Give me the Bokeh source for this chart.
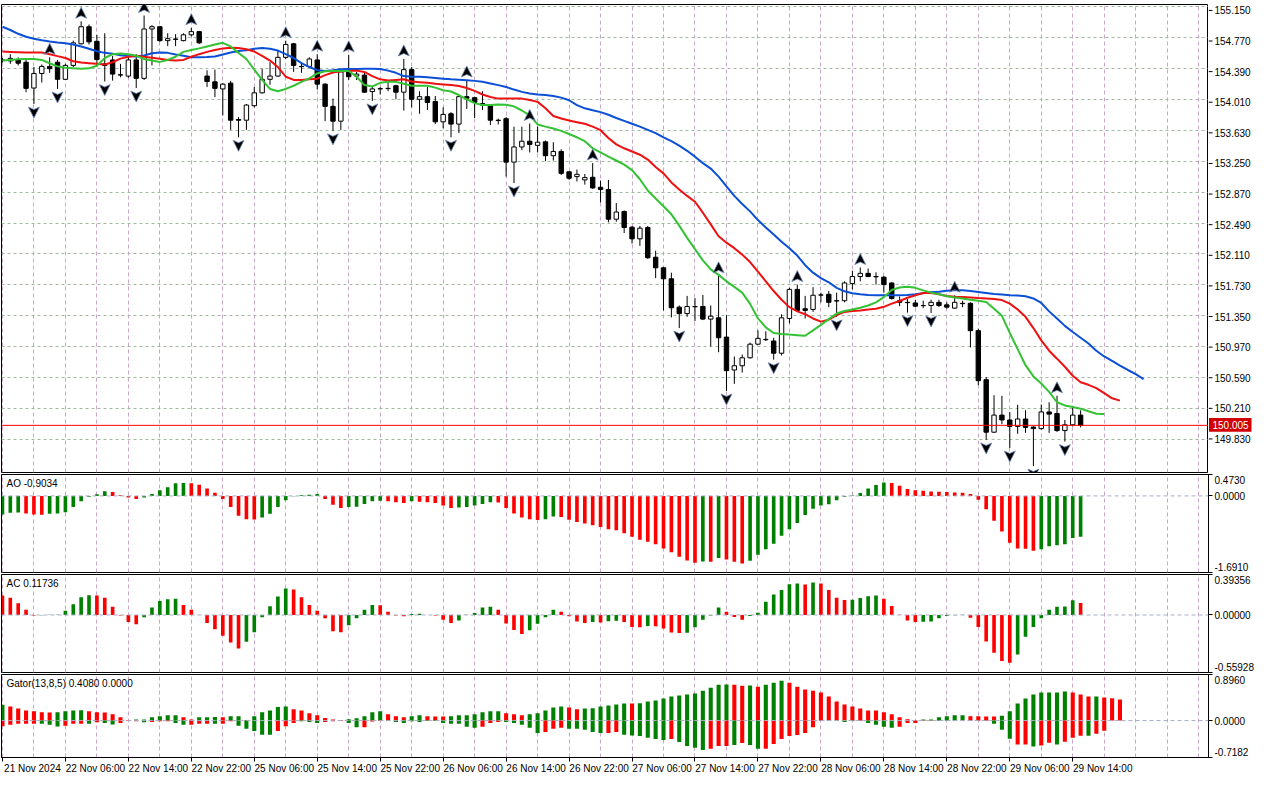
from bokeh.plotting import figure
from bokeh.models import (Range1d, FixedTicker, Grid, Span, Label, ColumnDataSource,
                          CustomJSTickFormatter)
from bokeh.layouts import column, row
from bokeh.embed import file_html
from bokeh.resources import INLINE
from bokeh.core.properties import value

# ---------------- data (H1 bars, bar 0 = 21 Nov 2024 22:00) ----------------
time_labels = ["21 Nov 2024", "22 Nov 06:00", "22 Nov 14:00", "22 Nov 22:00", "25 Nov 06:00",
               "25 Nov 14:00", "25 Nov 22:00", "26 Nov 06:00", "26 Nov 14:00", "26 Nov 22:00",
               "27 Nov 06:00", "27 Nov 14:00", "27 Nov 22:00", "28 Nov 06:00", "28 Nov 14:00",
               "28 Nov 22:00", "29 Nov 06:00", "29 Nov 14:00"]
label_bars = [0, 8, 16, 24, 32, 40, 48, 56, 64, 72, 80, 88, 96, 104, 112, 120, 128, 136]

open_ = [154.485, 154.481, 154.493, 154.465, 154.148, 154.327, 154.414, 154.465, 154.255, 154.426,
         154.691, 154.901, 154.722, 154.445, 154.493, 154.311, 154.295, 154.493, 154.267, 154.873,
         154.901, 154.730, 154.750, 154.730, 154.802, 154.841, 154.295, 154.224, 154.137, 154.208,
         153.761, 153.753, 153.931, 154.089, 154.255, 154.295, 154.525, 154.691, 154.414, 154.414,
         154.493, 154.196, 153.923, 153.741, 154.346, 154.295, 154.307, 154.105, 154.137, 154.141,
         154.176, 154.097, 154.374, 154.010, 154.042, 153.982, 153.733, 153.832, 153.705, 154.042,
         154.030, 153.958, 153.931, 153.753, 153.772, 153.238, 153.424, 153.495, 153.444, 153.487,
         153.317, 153.369, 153.119, 153.060, 153.020, 153.052, 152.929, 152.902, 152.537, 152.632,
         152.439, 152.296, 152.435, 152.070, 151.940, 151.805, 151.457, 151.378, 151.465, 151.465,
         151.310, 151.326, 151.089, 150.685, 150.737, 150.835, 151.002, 151.061, 151.041, 150.891,
         151.318, 151.675, 151.437, 151.429, 151.607, 151.615, 151.536, 151.536, 151.746, 151.833,
         151.872, 151.833, 151.825, 151.754, 151.536, 151.516, 151.508, 151.477, 151.477, 151.516,
         151.485, 151.445, 151.504, 151.504, 151.168, 150.566, 149.921, 150.131, 150.071, 149.992,
         150.083, 149.984, 149.965, 150.170, 150.151, 149.941, 150.012, 150.131]
high = [154.517, 154.564, 154.525, 154.501, 154.406, 154.437, 154.525, 154.493, 154.445, 154.730,
        154.968, 154.928, 154.802, 154.821, 154.544, 154.445, 154.544, 154.564, 155.039, 154.920,
        154.912, 154.821, 154.810, 154.821, 154.889, 154.849, 154.366, 154.374, 154.208, 154.236,
        153.792, 153.951, 154.160, 154.386, 154.465, 154.604, 154.730, 154.703, 154.445, 154.525,
        154.564, 154.208, 154.018, 154.386, 154.556, 154.346, 154.346, 154.160, 154.160, 154.247,
        154.188, 154.505, 154.406, 154.109, 154.160, 154.050, 153.911, 153.852, 154.050, 154.247,
        154.042, 154.109, 153.939, 153.772, 153.792, 153.674, 153.674, 153.713, 153.674, 153.503,
        153.483, 153.396, 153.125, 153.147, 153.092, 153.226, 153.012, 153.020, 152.735, 152.644,
        152.454, 152.454, 152.454, 152.150, 151.952, 151.880, 151.477, 151.595, 151.568, 151.607,
        151.477, 151.841, 151.358, 150.851, 150.875, 151.021, 151.172, 151.160, 151.081, 151.370,
        151.694, 151.734, 151.595, 151.702, 151.635, 151.655, 151.635, 151.774, 151.904, 151.944,
        151.932, 151.884, 151.841, 151.762, 151.587, 151.556, 151.548, 151.536, 151.548, 151.548,
        151.516, 151.603, 151.536, 151.516, 151.192, 150.598, 150.376, 150.368, 150.170, 150.257,
        150.190, 149.992, 150.261, 150.289, 150.368, 150.071, 150.230, 150.190]
low = [154.461, 154.445, 154.426, 154.097, 153.951, 154.216, 154.335, 154.137, 154.247, 154.406,
       154.683, 154.683, 154.406, 154.228, 154.239, 154.279, 154.275, 154.148, 154.247, 154.426,
       154.715, 154.663, 154.663, 154.722, 154.782, 154.691, 154.160, 154.038, 153.812, 153.634,
       153.543, 153.634, 153.911, 154.081, 154.188, 154.287, 154.505, 154.346, 154.335, 154.406,
       154.129, 153.741, 153.622, 153.634, 154.247, 154.247, 154.089, 153.990, 154.069, 154.109,
       154.010, 153.871, 153.911, 153.832, 153.879, 153.705, 153.654, 153.543, 153.594, 153.891,
       153.780, 153.879, 153.693, 153.701, 153.060, 152.981, 153.385, 153.357, 153.357, 153.250,
       153.258, 153.080, 153.020, 153.001, 152.961, 152.910, 152.743, 152.498, 152.506, 152.367,
       152.237, 152.209, 152.051, 151.813, 151.417, 151.330, 151.200, 151.338, 151.287, 151.298,
       150.974, 150.903, 150.428, 150.515, 150.653, 150.824, 150.994, 151.041, 150.812, 150.863,
       151.259, 151.398, 151.318, 151.398, 151.516, 151.457, 151.338, 151.516, 151.675, 151.774,
       151.825, 151.734, 151.635, 151.548, 151.469, 151.390, 151.457, 151.445, 151.386, 151.457,
       151.437, 151.437, 151.457, 150.962, 150.499, 149.826, 149.913, 150.020, 149.727, 149.901,
       149.913, 149.505, 149.953, 149.913, 149.925, 149.806, 149.992, 149.980]
close = [154.493, 154.513, 154.453, 154.144, 154.327, 154.414, 154.386, 154.255, 154.426, 154.703,
         154.901, 154.715, 154.497, 154.426, 154.319, 154.307, 154.493, 154.267, 154.873, 154.901,
         154.730, 154.754, 154.746, 154.802, 154.841, 154.703, 154.228, 154.144, 154.196, 153.753,
         153.753, 153.939, 154.089, 154.255, 154.295, 154.525, 154.683, 154.426, 154.410, 154.505,
         154.196, 153.923, 153.741, 154.346, 154.287, 154.319, 154.097, 154.137, 154.141, 154.144,
         154.097, 154.374, 154.010, 154.042, 153.970, 153.733, 153.824, 153.705, 154.042, 154.022,
         153.970, 153.939, 153.753, 153.749, 153.238, 153.424, 153.495, 153.456, 153.483, 153.317,
         153.369, 153.100, 153.040, 153.088, 153.048, 152.921, 152.902, 152.537, 152.625, 152.435,
         152.296, 152.427, 152.063, 151.940, 151.805, 151.449, 151.378, 151.465, 151.461, 151.310,
         151.346, 151.081, 150.677, 150.737, 150.835, 151.002, 151.073, 151.057, 150.891, 151.326,
         151.675, 151.417, 151.417, 151.603, 151.605, 151.516, 151.532, 151.754, 151.833, 151.872,
         151.833, 151.829, 151.734, 151.564, 151.516, 151.512, 151.469, 151.475, 151.516, 151.477,
         151.457, 151.516, 151.500, 151.168, 150.554, 149.921, 150.131, 150.071, 149.992, 150.083,
         149.980, 149.965, 150.170, 150.143, 149.941, 150.012, 150.131, 150.005]

# Alligator (values shown at their shifted positions)
jaw = [154.901, 154.861, 154.814, 154.778, 154.754, 154.734, 154.719, 154.707, 154.699, 154.683,
       154.659, 154.631, 154.600, 154.580, 154.568, 154.552, 154.540, 154.536, 154.548, 154.576,
       154.584, 154.580, 154.560, 154.544, 154.525, 154.525, 154.529, 154.536, 154.560, 154.584,
       154.604, 154.612, 154.631, 154.639, 154.631, 154.608, 154.564, 154.517, 154.453, 154.406,
       154.366, 154.358, 154.366, 154.378, 154.382, 154.382, 154.386, 154.386, 154.382, 154.362,
       154.335, 154.295, 154.287, 154.287, 154.279, 154.271, 154.263, 154.255, 154.251, 154.244,
       154.236, 154.224, 154.204, 154.184, 154.160, 154.129, 154.101, 154.081, 154.069, 154.062,
       154.050, 154.030, 153.998, 153.939, 153.899, 153.875, 153.852, 153.820, 153.780, 153.745,
       153.709, 153.674, 153.634, 153.594, 153.543, 153.495, 153.440, 153.377, 153.305, 153.226,
       153.159, 153.060, 152.941, 152.823, 152.724, 152.633, 152.526, 152.435, 152.348, 152.260,
       152.181, 152.090, 151.972, 151.880, 151.813, 151.762, 151.694, 151.651, 151.627, 151.615,
       151.607, 151.603, 151.603, 151.603, 151.603, 151.607, 151.615, 151.627, 151.639, 151.647,
       151.659, 151.667, 151.663, 151.655, 151.643, 151.631, 151.619, 151.611, 151.603, 151.599,
       151.591, 151.564, 151.508, 151.405, 151.318, 151.227, 151.152, 151.081, 151.010, 150.922,
       150.851, 150.796, 150.740, 150.685, 150.634, 150.574]
teeth = [154.596, 154.592, 154.588, 154.584, 154.584, 154.584, 154.564, 154.540, 154.517, 154.477,
         154.461, 154.453, 154.445, 154.437, 154.465, 154.509, 154.532, 154.544, 154.532, 154.521,
         154.509, 154.493, 154.485, 154.493, 154.532, 154.564, 154.592, 154.616, 154.635, 154.643,
         154.639, 154.624, 154.596, 154.544, 154.485, 154.406, 154.287, 154.248, 154.248, 154.255,
         154.263, 154.307, 154.339, 154.354, 154.358, 154.362, 154.346, 154.295, 154.255, 154.240,
         154.248, 154.255, 154.228, 154.220, 154.212, 154.200, 154.192, 154.184, 154.172, 154.149,
         154.113, 154.069, 154.038, 154.018, 154.018, 154.018, 154.018, 154.002, 153.978, 153.899,
         153.804, 153.773, 153.749, 153.729, 153.709, 153.674, 153.630, 153.535, 153.456, 153.408,
         153.369, 153.329, 153.270, 153.179, 153.100, 152.989, 152.902, 152.823, 152.751, 152.617,
         152.474, 152.328, 152.249, 152.181, 152.102, 152.011, 151.892, 151.774, 151.655, 151.548,
         151.457, 151.405, 151.370, 151.318, 151.279, 151.303, 151.358, 151.398, 151.409, 151.417,
         151.429, 151.437, 151.461, 151.500, 151.532, 151.572, 151.603, 151.631, 151.631, 151.615,
         151.595, 151.584, 151.580, 151.576, 151.568, 151.564, 151.556, 151.544, 151.500, 151.429,
         151.338, 151.200, 151.049, 150.922, 150.824, 150.725, 150.614, 150.535, 150.503, 150.463,
         150.400, 150.337, 150.309]
lips = [154.485, 154.493, 154.501, 154.505, 154.505, 154.493, 154.453, 154.414, 154.398, 154.390,
        154.386, 154.390, 154.422, 154.517, 154.564, 154.572, 154.564, 154.544, 154.505, 154.485,
        154.469, 154.493, 154.532, 154.592, 154.616, 154.635, 154.659, 154.683, 154.703, 154.659,
        154.580, 154.505, 154.374, 154.248, 154.137, 154.109, 154.137, 154.176, 154.224, 154.267,
        154.327, 154.354, 154.358, 154.358, 154.358, 154.287, 154.184, 154.168, 154.212, 154.224,
        154.224, 154.200, 154.176, 154.176, 154.176, 154.153, 154.121, 154.105, 154.062, 154.010,
        153.963, 153.939, 153.939, 153.947, 153.943, 153.923, 153.872, 153.812, 153.701, 153.674,
        153.650, 153.622, 153.583, 153.543, 153.495, 153.408, 153.357, 153.305, 153.258, 153.207,
        153.139, 153.028, 152.890, 152.791, 152.696, 152.597, 152.458, 152.308, 152.169, 152.031,
        151.920, 151.853, 151.774, 151.706, 151.635, 151.497, 151.318, 151.208, 151.140, 151.128,
        151.120, 151.113, 151.105, 151.172, 151.239, 151.310, 151.378, 151.409, 151.429, 151.449,
        151.477, 151.516, 151.580, 151.667, 151.698, 151.706, 151.694, 151.663, 151.635, 151.615,
        151.591, 151.576, 151.564, 151.548, 151.536, 151.520, 151.437, 151.350, 151.140, 150.942,
        150.744, 150.606, 150.519, 150.416, 150.289, 150.250, 150.230, 150.210, 150.178, 150.147,
        150.143]

fractal_up = [6, 10, 18, 24, 36, 40, 44, 51, 59, 67, 75, 91, 101, 109, 121, 134]
fractal_down = [4, 7, 13, 17, 30, 42, 47, 57, 65, 86, 92, 98, 106, 115, 118, 125, 128, 131, 135]

ao = [-0.408, -0.372, -0.365, -0.386, -0.408, -0.415, -0.393, -0.386, -0.358, -0.246,
      -0.119, -0.021, 0.035, 0.105, 0.084, 0.014, -0.035, -0.070, -0.035, 0.042,
      0.126, 0.190, 0.281, 0.288, 0.281, 0.246, 0.162, 0.070, -0.070, -0.246,
      -0.436, -0.513, -0.520, -0.478, -0.393, -0.246, -0.098, -0.007, 0.014, 0.028,
      0.042, -0.070, -0.197, -0.267, -0.246, -0.239, -0.176, -0.119, -0.105, -0.119,
      -0.141, -0.155, -0.119, -0.126, -0.141, -0.155, -0.211, -0.267, -0.253, -0.246,
      -0.211, -0.176, -0.141, -0.148, -0.267, -0.386, -0.478, -0.513, -0.534, -0.513,
      -0.457, -0.464, -0.527, -0.576, -0.611, -0.646, -0.689, -0.738, -0.759, -0.822,
      -0.899, -0.970, -1.012, -1.068, -1.159, -1.244, -1.342, -1.426, -1.475, -1.447,
      -1.454, -1.370, -1.405, -1.454, -1.490, -1.433, -1.300, -1.180, -1.054, -0.878,
      -0.738, -0.597, -0.422, -0.281, -0.211, -0.183, -0.098, -0.021, 0.007, 0.063,
      0.162, 0.239, 0.295, 0.288, 0.225, 0.155, 0.126, 0.112, 0.098, 0.091,
      0.084, 0.077, 0.072, 0.042, -0.084, -0.295, -0.548, -0.787, -1.033, -1.159,
      -1.166, -1.208, -1.180, -1.110, -1.089, -1.068, -0.927, -0.9034]
ao_color = ("ggg" "rrr" "gggggggg" "rrrr" "gggggg" "rrrrrrrrr" "gggggggg" "rrr" "ggggg" "rrr"
            "g" "rrrrr" "ggggg" "rrrrrr" "gg" "rrrrrrrrrrrrrrrrrr" "g" "r" "g" "rrr"
            "gggggggggggggggggg" "rrrrrrrrrrrrrrrrrrr" "gggggg")

ac = [0.189, 0.167, 0.113, 0.050, -0.006, -0.003, 0.002, 0.003, 0.041, 0.104,
      0.173, 0.192, 0.190, 0.167, 0.079, -0.006, -0.069, -0.091, -0.022, 0.072,
      0.135, 0.154, 0.157, 0.097, 0.050, -0.001, -0.079, -0.138, -0.201, -0.267,
      -0.327, -0.261, -0.167, -0.022, 0.085, 0.179, 0.258, 0.248, 0.173, 0.097,
      0.041, -0.031, -0.157, -0.167, -0.101, -0.031, 0.050, 0.097, 0.094, 0.031,
      -0.006, -0.013, 0.009, 0.013, -0.001, -0.006, -0.047, -0.079, -0.053, 0.002,
      0.019, 0.072, 0.079, 0.050, -0.082, -0.145, -0.186, -0.148, -0.085, -0.022,
      0.050, 0.031, -0.013, -0.063, -0.079, -0.069, -0.072, -0.060, -0.057, -0.069,
      -0.116, -0.120, -0.107, -0.110, -0.132, -0.170, -0.176, -0.172, -0.120, -0.047,
      -0.006, 0.072, 0.031, -0.019, -0.047, -0.009, 0.022, 0.129, 0.198, 0.242,
      0.299, 0.305, 0.296, 0.315, 0.305, 0.242, 0.167, 0.145, 0.148, 0.164,
      0.182, 0.189, 0.157, 0.088, 0.002, -0.053, -0.069, -0.066, -0.063, -0.031,
      -0.009, -0.003, 0.003, -0.028, -0.116, -0.258, -0.368, -0.447, -0.465, -0.384,
      -0.211, -0.116, -0.031, 0.050, 0.079, 0.082, 0.142, 0.11736]
ac_color = ("rrrrr" "ggggggg" "rrrrrr" "ggggg" "rrrrrrrr" "gggggg" "rrrrrrr" "gggg" "rrrr" "gg"
            "rrrr" "ggggg" "rrrr" "gggg" "rrrr" "g" "r" "gg" "rrr" "g" "rrrr" "ggggg" "rrr"
            "ggggggg" "r" "g" "rrrr" "gggg" "rrrrr" "gggggg" "rrrrrr" "gggggggg" "r")

gator_up = [0.307, 0.275, 0.237, 0.198, 0.179, 0.160, 0.158, 0.162, 0.179, 0.198,
            0.200, 0.179, 0.160, 0.155, 0.122, 0.064, 0.006, 0.019, 0.022, 0.064,
            0.083, 0.102, 0.105, 0.064, 0.019, 0.064, 0.066, 0.068, 0.064, 0.083,
            0.085, 0.013, 0.083, 0.160, 0.198, 0.262, 0.275, 0.218, 0.198, 0.141,
            0.102, 0.051, 0.019, 0.006, 0.026, 0.045, 0.083, 0.160, 0.179, 0.122,
            0.083, 0.064, 0.083, 0.102, 0.083, 0.081, 0.080, 0.083, 0.102, 0.104,
            0.122, 0.160, 0.179, 0.181, 0.141, 0.122, 0.102, 0.122, 0.141, 0.198,
            0.256, 0.275, 0.256, 0.218, 0.237, 0.240, 0.275, 0.294, 0.314, 0.333,
            0.331, 0.336, 0.371, 0.390, 0.429, 0.467, 0.486, 0.506, 0.525, 0.582,
            0.640, 0.698, 0.700, 0.695, 0.678, 0.680, 0.659, 0.698, 0.736, 0.774,
            0.736, 0.659, 0.602, 0.582, 0.544, 0.467, 0.371, 0.314, 0.275, 0.237,
            0.198, 0.195, 0.160, 0.122, 0.064, 0.026, 0.006, 0.019, 0.022, 0.064,
            0.083, 0.102, 0.104, 0.083, 0.082, 0.081, 0.080, 0.096, 0.179, 0.333,
            0.429, 0.506, 0.544, 0.546, 0.548, 0.563, 0.544, 0.506, 0.467, 0.470,
            0.448, 0.435, 0.408]
gator_up_color = ("g" "rrrrrr" "gggg" "rrrrrr" "gggggg" "rr" "ggg" "r" "gg" "r" "ggggg" "rrrrrrr"
                  "ggggg" "rrr" "gg" "rrr" "ggggggg" "rrr" "ggggg" "rr" "gggggg" "r"
                  "gggggggggggg" "rr" "g" "r" "ggg" "rrrrrrrrrrrrrrrrr" "gggggg" "rrrr"
                  "ggggggggg" "rrr" "g" "rrr")
gator_down = [-0.109, -0.083, -0.064, -0.064, -0.064, -0.064, -0.083, -0.115, -0.102, -0.064,
              -0.064, -0.064, -0.032, -0.045, -0.077, -0.045, -0.006, -0.013, -0.032, -0.026,
              -0.013, -0.013, -0.045, -0.083, -0.083, -0.064, -0.064, -0.064, -0.064, -0.013,
              -0.102, -0.160, -0.205, -0.275, -0.275, -0.205, -0.109, -0.045, -0.013, -0.026,
              -0.045, -0.026, -0.013, -0.006, -0.045, -0.128, -0.128, -0.019, -0.006, -0.006,
              -0.026, -0.045, -0.013, -0.026, -0.006, -0.006, -0.045, -0.064, -0.064, -0.122,
              -0.141, -0.122, -0.045, -0.026, -0.026, -0.045, -0.083, -0.141, -0.243, -0.224,
              -0.160, -0.141, -0.160, -0.160, -0.179, -0.224, -0.243, -0.243, -0.224, -0.275,
              -0.288, -0.301, -0.333, -0.358, -0.378, -0.358, -0.416, -0.493, -0.531, -0.570,
              -0.550, -0.493, -0.493, -0.474, -0.435, -0.474, -0.550, -0.550, -0.454, -0.358,
              -0.301, -0.282, -0.243, -0.128, -0.002, -0.003, -0.006, -0.026, -0.006, -0.003,
              -0.045, -0.083, -0.122, -0.141, -0.122, -0.045, -0.045, -0.002, -0.002, -0.002,
              -0.002, -0.002, -0.003, -0.002, -0.002, -0.002, -0.064, -0.179, -0.352, -0.467,
              -0.467, -0.506, -0.486, -0.429, -0.467, -0.410, -0.333, -0.294, -0.294, -0.256,
              -0.198]
gator_down_color = ("rrrrr" "ggg" "rrr" "g" "r" "gg" "rrr" "g" "rrr" "gg" "rrr" "g" "rr" "ggggg"
                    "rrr" "ggg" "rrr" "gg" "rrr" "gggggggggggg" "rrr" "ggggg" "rrr" "ggggg" "rr"
                    "gggggg" "r" "gggg" "rrr" "g" "r" "gg" "rrrrrrrr" "gggg" "r" "gggg" "rrrrr"
                    "ggg" "rrrr" "ggg" "rr" "g" "rr" "g" "rrr" "g" "rr")

price_ticks = [155.150, 154.770, 154.390, 154.010, 153.630, 153.250, 152.870, 152.490,
               152.110, 151.730, 151.350, 150.970, 150.590, 150.210, 149.830]
main_range = (149.426, 155.174)
ao_range = (-1.691, 0.473)
ac_range = (-0.55928, 0.39356)
gator_range = (-0.7182, 0.896)
ao_labels = ["-1.6910", "0.0000", "0.4730"]
ac_labels = ["-0.55928", "0.00000", "0.39356"]
gator_labels = ["-0.7182", "0.0000", "0.8960"]

# ---------------- styling / layout ----------------
FONT = "Liberation Sans"
GREEN, RED = "#008000", "#ff0000"
GRID_V, GRID_H, LEVEL = "#c8a6c8", "#a2b8a2", "#a8aec8"
W, MBL, MBR = 1264, 1, 56
X0, X1 = -0.12, 153.25
FW = W - MBL - MBR
xpp = (X1 - X0) / FW
x_range = Range1d(X0, X1)


def fix_colors(s, n):
    s = list(s)[:n]
    return s + ["g"] * (n - len(s))


def base_fig(width, height, yr, top_b, bottom_b, right_b, yaxis, xaxis):
    p = figure(width=width, height=height, x_range=x_range, y_range=Range1d(*yr),
               output_backend="svg", toolbar_location=None,
               y_axis_location=("right" if yaxis else None),
               x_axis_location=("below" if xaxis else None),
               min_border_left=MBL, min_border_right=right_b,
               min_border_top=top_b, min_border_bottom=bottom_b)
    p.outline_line_color = "black"
    p.outline_line_alpha = 1.0
    p.background_fill_color = "white"
    p.border_fill_color = "white"
    for g in p.grid:
        g.visible = False
    p.add_layout(Grid(dimension=0, ticker=FixedTicker(ticks=list(range(0, 154, 4))),
                      grid_line_color=GRID_V, grid_line_dash="4 3", grid_line_width=1))
    return p


def title_label(p, yr, frame_h, text):
    ypp = (yr[1] - yr[0]) / frame_h
    p.add_layout(Label(x=X0 + 5 * xpp, y=yr[1] - 3 * ypp, text=text, text_align="left",
                       text_baseline="top", text_font=FONT, text_font_size="10px",
                       text_color="black"))


# ---------------- main price panel ----------------
MAIN_H, MAIN_TOP = 473, 4
main_fh = MAIN_H - MAIN_TOP - 1
ypp_main = (main_range[1] - main_range[0]) / main_fh
main = base_fig(W - MBR, MAIN_H, main_range, MAIN_TOP, 1, 0, False, False)
main.add_layout(Grid(dimension=1, ticker=FixedTicker(ticks=price_ticks),
                     grid_line_color=GRID_H, grid_line_dash="3 3", grid_line_width=1))

n = len(close)
cs = ColumnDataSource(dict(
    x=list(range(n)), high=high, low=low,
    top=[max(o, c) for o, c in zip(open_, close)],
    bottom=[min(o, c) for o, c in zip(open_, close)],
    fill=["white" if c >= o else "black" for o, c in zip(open_, close)]))
main.segment(x0="x", y0="low", x1="x", y1="high", source=cs, line_color="black", line_width=1)
main.vbar(x="x", width=0.56, top="top", bottom="bottom", source=cs,
          fill_color="fill", line_color="black", line_width=1)

main.line(list(range(len(jaw))), jaw, line_color="#0a4fd6", line_width=2)
main.line(list(range(len(teeth))), teeth, line_color="#ee1111", line_width=2)
main.line(list(range(len(lips))), lips, line_color="#33c233", line_width=2)

# fractal arrowheads (3 px off the extreme, 11 px long, 11 px wide)
hw = 5.5 * xpp
xs, ys = [], []
for k in fractal_up:
    base = high[k] + 3 * ypp_main
    tip = high[k] + 14 * ypp_main
    notch = base + 2.5 * ypp_main
    xs.append([k, k + hw, k, k - hw]); ys.append([tip, base, notch, base])
for k in fractal_down:
    base = low[k] - 3 * ypp_main
    tip = low[k] - 14 * ypp_main
    notch = base - 2.5 * ypp_main
    xs.append([k, k + hw, k, k - hw]); ys.append([tip, base, notch, base])
main.patches(xs, ys, fill_color="black", line_color="#6f88b8", line_width=0.8)

last = close[-1]
main.add_layout(Span(location=last, dimension="width", line_color="#ff0000", line_width=1))

# price scale strip for the main panel (same vertical scale as the main frame)
scale = figure(width=MBR, height=MAIN_H, x_range=Range1d(0, MBR),
               y_range=Range1d(main_range[0] - 1 * ypp_main, main_range[1] + MAIN_TOP * ypp_main),
               output_backend="svg", toolbar_location=None, x_axis_location=None,
               y_axis_location=None, min_border_left=0, min_border_right=0,
               min_border_top=0, min_border_bottom=0)
scale.outline_line_color = None
scale.background_fill_color = "white"
scale.border_fill_color = "white"
for g in scale.grid:
    g.visible = False
scale.segment(x0=[0] * len(price_ticks), x1=[4] * len(price_ticks), y0=price_ticks,
              y1=price_ticks, line_color="black", line_width=1)
scale.text(x=[6] * len(price_ticks), y=price_ticks, text=[f"{t:.3f}" for t in price_ticks],
           text_font=value(FONT), text_font_size=value("10px"), text_baseline="middle",
           text_align="left", text_color="black")
scale.quad(left=[0.5], right=[43], bottom=[last - 7 * ypp_main], top=[last + 7 * ypp_main],
           fill_color="#d00000", line_color=None)
scale.text(x=[4], y=[last], text=[f"{last:.3f}"], text_font=value(FONT),
           text_font_size=value("10px"), text_baseline="middle", text_align="left",
           text_color="white")


# ---------------- indicator panels ----------------
def indicator(height, yr, bottom_b, xaxis, values, colors, width, labels, title):
    p = base_fig(W, height, yr, 1, bottom_b, MBR, True, xaxis)
    fh = height - 1 - bottom_b
    ypp = (yr[1] - yr[0]) / fh
    ax = p.yaxis[0]
    ax.ticker = FixedTicker(ticks=[yr[0] + 5.5 * ypp, 0.0, yr[1] - 5.5 * ypp],
                            minor_ticks=[yr[0], 0.0, yr[1]])
    ax.formatter = CustomJSTickFormatter(args=dict(labels=labels), code="return labels[index];")
    ax.axis_line_color = "black"
    ax.major_tick_line_color = None
    ax.major_tick_out = 4
    ax.major_tick_in = 0
    ax.minor_tick_line_color = "black"
    ax.minor_tick_out = 4
    ax.minor_tick_in = 0
    ax.major_label_standoff = 2
    ax.major_label_text_font = FONT
    ax.major_label_text_font_size = "10px"
    ax.major_label_text_color = "black"
    p.add_layout(Span(location=0, dimension="width", line_color=LEVEL,
                      line_dash="4 3", line_width=1))
    for vals, cols in zip(values, colors):
        m = len(vals)
        src = ColumnDataSource(dict(
            x=list(range(m)), top=[max(v, 0) for v in vals], bottom=[min(v, 0) for v in vals],
            fill=[GREEN if c == "g" else RED for c in fix_colors(cols, m)]))
        p.vbar(x="x", width=width, top="top", bottom="bottom", source=src,
               fill_color="fill", line_color=None)
    title_label(p, yr, fh, title)
    return p


ao_fig = indicator(100, ao_range, 1, False, [ao], [ao_color], 0.46, ao_labels,
                   f"AO {ao[-1]:.4f}")
ac_fig = indicator(100, ac_range, 1, False, [ac], [ac_color], 0.46, ac_labels,
                   f"AC {ac[-1]:.5f}")
gator_fig = indicator(108, gator_range, 24, True, [gator_up, gator_down],
                      [gator_up_color, gator_down_color], 0.52, gator_labels,
                      "Gator(13,8,5) 0.4080 0.0000")

# time axis: marks at the bar, text starting at the mark (terminal style)
half_label = 30 * xpp
xa = gator_fig.xaxis[0]
xa.ticker = FixedTicker(ticks=[k + half_label for k in label_bars], minor_ticks=label_bars)
xa.formatter = CustomJSTickFormatter(args=dict(labels=time_labels), code="return labels[index];")
xa.axis_line_color = "black"
xa.major_tick_line_color = None
xa.major_tick_out = 2
xa.major_tick_in = 0
xa.minor_tick_line_color = "black"
xa.minor_tick_out = 4
xa.minor_tick_in = 0
xa.major_label_standoff = 1
xa.major_label_text_font = FONT
xa.major_label_text_font_size = "10px"
xa.major_label_text_color = "black"

layout = column(row(main, scale, spacing=0), ao_fig, ac_fig, gator_fig, spacing=0)
open("out.html", "w").write(file_html(layout, INLINE))
